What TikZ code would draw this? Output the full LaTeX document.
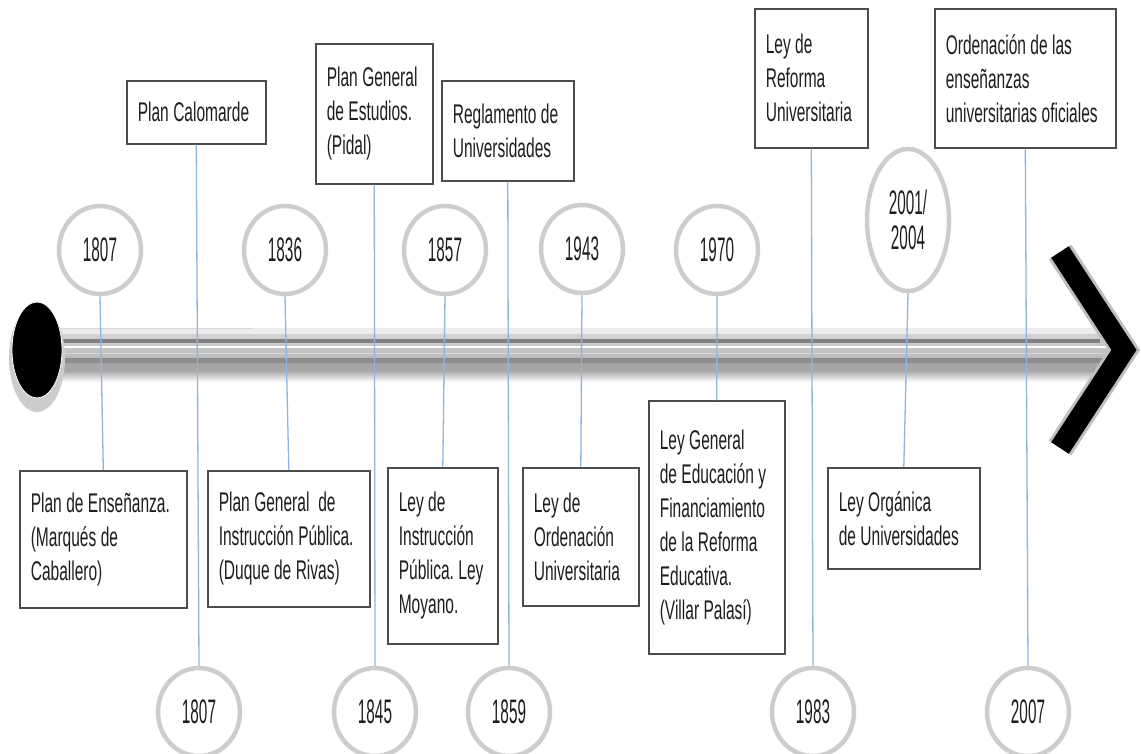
\documentclass[tikz,border=0pt]{standalone}
\usepackage{fontspec}
\setmainfont[FakeStretch=0.575]{Liberation Sans}
\newfontfamily\yearfont[FakeStretch=0.45]{Liberation Sans}
\usetikzlibrary{shapes.geometric}
\hyphenpenalty=10000
\frenchspacing

\definecolor{linkblue}{RGB}{142,180,227}
\definecolor{ringgray}{RGB}{205,205,205}
\definecolor{textgray}{RGB}{30,30,30}

\tikzset{
  yearnode/.style={ellipse, draw=ringgray, line width=4.5pt, fill=white,
    minimum width=82pt, minimum height=88pt, inner sep=0pt, text=textgray,
    font=\yearfont\fontsize{34}{35}\selectfont, align=center},
  lawbox/.style={rectangle, draw=black!70, line width=1.6pt, fill=white,
    inner xsep=11pt, inner ysep=0pt, text=textgray, anchor=north west,
    font=\fontsize{27}{34}\selectfont, align=left,
    execute at begin node={\spaceskip=4.4pt plus 1pt minus 1pt\xspaceskip=4.4pt\relax}},
  link/.style={draw=linkblue, line width=1.3pt}
}

\begin{document}
\begin{tikzpicture}[x=1pt,y=-1pt]
	\useasboundingbox (0,0) rectangle (1141,754);
	\clip (0,0) rectangle (1141,754);
	
	% Draw the bar of the time line
	\shade[top color=gray!30, middle color=gray!50, bottom color=gray!70] (50,328) rectangle (1118,380);
	\fill[gray!15] (50,328) rectangle (1118,334);
	\draw[gray!30, line width=1pt] (60,328) -- (253,328);
	\fill[black!50] (50,339) rectangle (1100,343);
	\draw[white, line width=1.5pt] (50,347) -- (1110,347);
	\draw[white!70!gray, line width=1pt] (50,353) -- (1110,353);
	\fill[black!45] (50,358) rectangle (1110,363);
	\fill[gray!70] (50,363) rectangle (1118,372);
	\shade[top color=gray!60, bottom color=white] (50,372) rectangle (1118,382);
	
	% Arrow head and round end
	\draw[gray!50, line width=27pt, line join=miter] (1060,252) -- (1124,350) -- (1060,448);
	\draw[black, line width=21pt, line join=miter] (1060,252) -- (1124,350) -- (1060,448);
	\fill[gray!40] (37,358) ellipse (28pt and 54pt);
	\fill[black] (37,350) ellipse (25pt and 48pt);
	\draw[white, line width=0.8pt] (37,350) ellipse (25pt and 48pt);
	
	% Years above the bar
	\node[yearnode] (t1807) at (100,250) {1807};
	\node[yearnode] (t1836) at (285,250) {1836};
	\node[yearnode] (t1857) at (445,250) {1857};
	\node[yearnode] (t1943) at (582,249) {1943};
	\node[yearnode] (t1970) at (717,250) {1970};
	\node[yearnode, minimum height=142pt] (t2001) at (908,220) {2001/\\2004};
	
	% Years below the bar
	\node[yearnode] (b1807) at (199,712) {1807};
	\node[yearnode] (b1845) at (375,712) {1845};
	\node[yearnode] (b1859) at (509,712) {1859};
	\node[yearnode] (b1983) at (813,712) {1983};
	\node[yearnode] (b2007) at (1028,712) {2007};
	
	% Laws above the bar
	\node[lawbox, text width=117pt, minimum height=63pt] (calomarde) at (126,80) {Plan Calomarde};
	\node[lawbox, text width=95pt, minimum height=140pt] (pidal) at (315,43) {Plan General\\de Estudios.\\(Pidal)};
	\node[lawbox, text width=110pt, minimum height=100pt] (reglamento) at (441,80) {Reglamento de\\Universidades};
	\node[lawbox, text width=91pt, minimum height=139pt] (reforma) at (754,8) {Ley de\\Reforma\\Universitaria};
	\node[lawbox, text width=159pt, minimum height=139pt] (ordenacion) at (934,8) {Ordenación de las\\enseñanzas\\universitarias oficiales};
	
	% Laws below the bar
	\node[lawbox, text width=145pt, minimum height=137pt] (ensenanza) at (19,470) {Plan de Enseñanza.\\(Marqués de\\Caballero)};
	\node[lawbox, text width=140pt, minimum height=136pt] (rivas) at (207,470) {Plan General~ de\\Instrucción Pública.\\(Duque de Rivas)};
	\node[lawbox, text width=88pt, minimum height=176pt] (moyano) at (387,467) {Ley de\\Instrucción\\Pública. Ley\\Moyano.};
	\node[lawbox, text width=94pt, minimum height=138pt] (lou43) at (522,467) {Ley de\\Ordenación\\Universitaria};
	\node[lawbox, text width=114pt, minimum height=253pt] (palasi) at (648,400) {Ley General\\de Educación y\\Financiamiento\\de la Reforma\\Educativa.\\(Villar Palasí)};
	\node[lawbox, text width=130pt, minimum height=101pt] (lou) at (827,467) {Ley Orgánica\\de Universidades};
	
	% Connectors from years to laws
	\draw[link] (t1807.south) -- (ensenanza.north);
	\draw[link] (t1836.south) -- (rivas.north);
	\draw[link] (t1857.south) -- (moyano.north);
	\draw[link] (t1943.south) -- (lou43.north);
	\draw[link] (t1970.south) -- (palasi.north);
	\draw[link] (t2001.south) -- (lou.north);
	\draw[link] (calomarde.south) -- (b1807.north);
	\draw[link] (pidal.south) -- (b1845.north);
	\draw[link] (reglamento.south) -- (b1859.north);
	\draw[link] (reforma.south) -- (b1983.north);
	\draw[link] (ordenacion.south) -- (b2007.north);
\end{tikzpicture}
\end{document}
